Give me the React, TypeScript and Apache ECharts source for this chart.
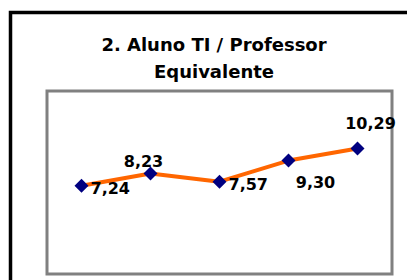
import React, { useEffect, useRef } from "react";
import * as echarts from "echarts";

const categories = ["A", "B", "C", "D", "E"];
const values = [7.24, 8.23, 7.57, 9.3, 10.29];
const labelPositions = ["right", "top", "right", "bottom", "top"];
const labelOffsets = [[-3, 3], [-7, 8], [-3, 3], [27, 2], [13, -5]];

export default function App() {
  const ref = useRef<HTMLDivElement>(null);
  useEffect(() => {
    const chart = echarts.init(ref.current!, null, { renderer: "svg" });
    const font = "'DejaVu Sans', sans-serif";
    chart.setOption({
      animation: false,
      backgroundColor: "#ffffff",
      title: {
        text: "2. Aluno TI / Professor\nEquivalente",
        left: 209,
        top: 26,
        textAlign: "center",
        textStyle: { fontFamily: font, fontWeight: "bold", fontSize: 18, lineHeight: 27, color: "#000" },
      },
      graphic: [
        {
          type: "rect",
          shape: { x: 10.5, y: 12.5, width: 420, height: 300 },
          style: { fill: "none", stroke: "#000", lineWidth: 3.5 },
          silent: true,
        },
      ],
      grid: {
        left: 47,
        top: 91,
        width: 345,
        height: 183,
        show: true,
        borderColor: "#808080",
        borderWidth: 3,
        backgroundColor: "#fff",
      },
      xAxis: {
        type: "category",
        data: categories,
        boundaryGap: true,
        axisLine: { show: false },
        axisTick: { show: false },
        axisLabel: { show: false },
        splitLine: { show: false },
      },
      yAxis: {
        type: "value",
        min: 0,
        max: 15,
        axisLine: { show: false },
        axisTick: { show: false },
        axisLabel: { show: false },
        splitLine: { show: false },
      },
      series: [
        {
          type: "line",
          data: values.map((v, i) => ({
            value: v,
            label: {
              position: labelPositions[i],
              offset: labelOffsets[i],
            },
          })),
          lineStyle: { color: "#FF6600", width: 4 },
          symbol: "diamond",
          symbolSize: 14,
          itemStyle: { color: "#000080" },
          label: {
            show: true,
            fontFamily: font,
            fontWeight: "bold",
            fontSize: 16,
            color: "#000",
            formatter: (p: any) => p.value.toFixed(2).replace(".", ","),
          },
          z: 3,
        },
      ],
    });
    return () => chart.dispose();
  }, []);
  return (
    <div
      ref={ref}
      style={{ position: "absolute", left: 0, top: 0, width: 407, height: 280 }}
    />
  );
}
